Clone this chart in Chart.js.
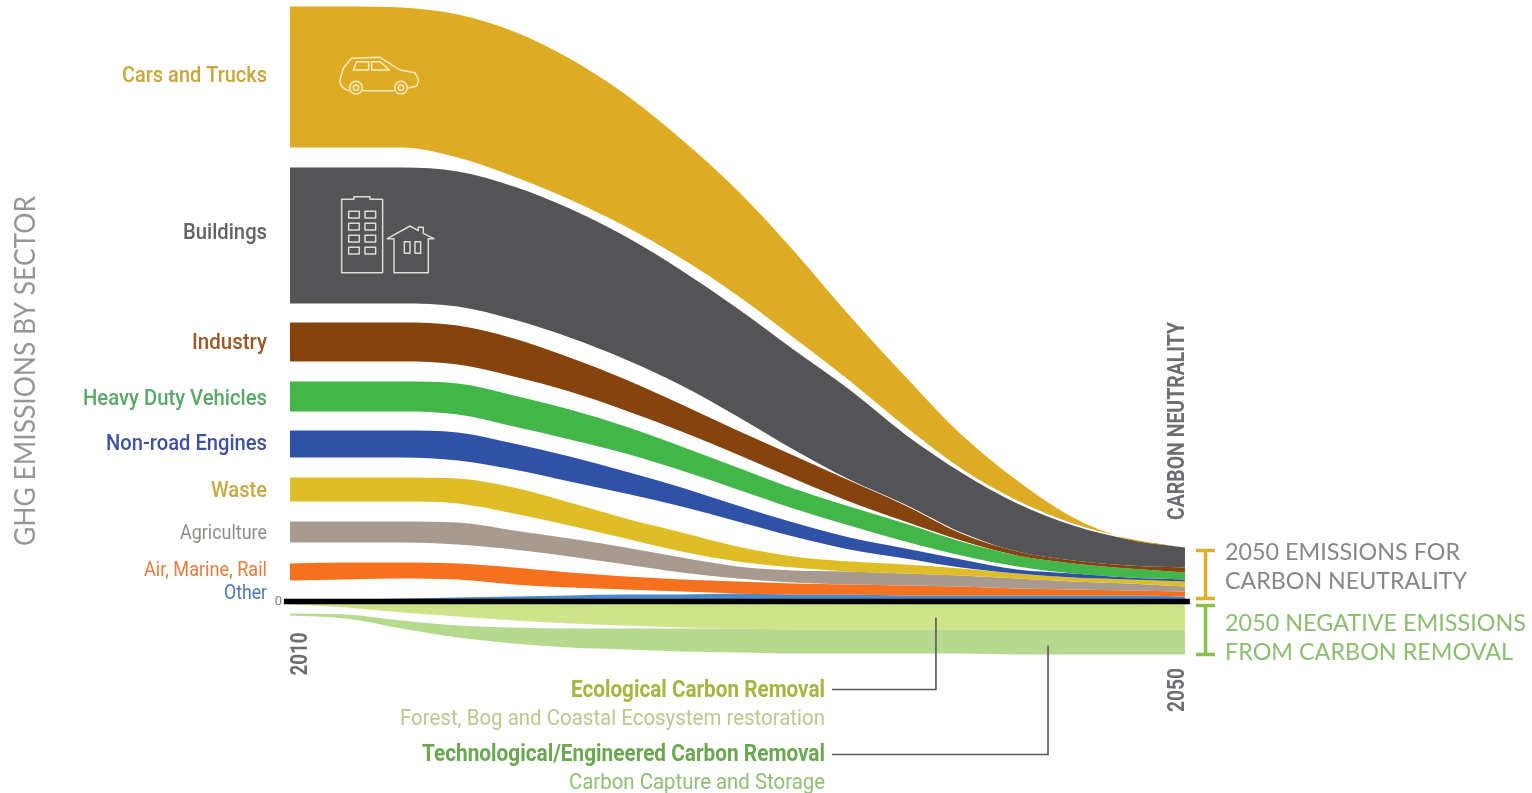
<!DOCTYPE html>
<html>
<head>
<meta charset="utf-8">
<title>GHG emissions by sector</title>
<script src="https://cdn.jsdelivr.net/npm/chart.js@4"></script>
<style>
  html, body { margin: 0; padding: 0; background: #fff; overflow: hidden; }
  canvas { display: block; }
</style>
</head>
<body>
<canvas id="myChart" width="1532" height="793"></canvas>
<script>
// years the band edges were read at
const years = [2010, 2012.5, 2015, 2017.5, 2020, 2022.5, 2025, 2027.5, 2030, 2032.5, 2035, 2037.5, 2040, 2042.5, 2045, 2047.5, 2050];

// upper and lower edge of every sector band (relative emissions)
const carsTop = [595, 595, 594, 587, 570, 543, 507, 462, 411, 351, 286, 225, 167, 121, 84, 62, 54];
const carsBottom = [454, 454, 454, 444, 425, 402, 375, 343, 306, 264, 221, 175, 133, 101, 78, 63, 54];
const buildingsTop = [434, 434, 434, 430, 415, 393, 365, 331, 293, 252, 212, 167, 129, 98, 76, 62, 54];
const buildingsBottom = [298, 298, 298, 295, 282, 264, 242, 216, 185, 152, 122, 97, 69, 50, 41, 36, 34];
const industryTop = [279, 279, 279, 276, 263, 244, 222, 197, 171, 146, 121, 96, 68, 50, 41, 36, 34];
const industryBottom = [240, 240, 240, 237, 225, 210, 191, 170, 147, 123, 100, 80, 61, 46, 38, 33, 29];
const heavyTop = [220, 220, 220, 218, 206, 192, 175, 155, 134, 113, 95, 78, 60, 46, 38, 33, 29];
const heavyBottom = [190, 190, 190, 187, 175, 162, 148, 131, 112, 93, 76, 60, 46, 35, 28, 24, 22];
const nonroadTop = [171, 171, 171, 169, 158, 145, 130, 114, 96, 79, 64, 53, 42, 32, 28, 24, 22];
const nonroadBottom = [144, 144, 144, 141, 132, 120, 108, 95, 80, 65, 52, 43, 34, 28, 24, 22, 20];
const wasteTop = [124, 124, 124, 123, 114, 99, 83, 69, 55, 45, 40, 37, 33, 28, 24, 22, 20];
const wasteBottom = [100, 100, 100, 98, 88, 76, 63, 50, 40, 34, 30, 28, 26, 23, 20, 18, 15];
const agricultureTop = [80, 80, 80, 79, 71, 63, 54, 44, 35, 31, 30, 28, 26, 23, 20, 18, 15];
const agricultureBottom = [59, 59, 59, 57, 52, 45, 37, 29, 23, 19, 17, 16, 15, 13, 12, 11, 10];
const airTop = [38, 39, 39, 38, 34, 29, 25, 22, 20, 18, 17, 16, 15, 13, 12, 11, 10];
const airBottom = [21, 22, 23, 22, 17, 14, 12, 10, 8, 7, 7, 6, 6, 6, 6, 6, 5];
const otherTop = [2, 2, 3, 4, 5, 6, 7, 7, 8, 7, 7, 6, 6, 6, 6, 6, 5];
const otherBottom = [0, 0, 0, 0, 0, 0, 0, 0, 0, 0, 0, 0, 0, 0, 0, 0, 0];
const ecoTop = [0, 0, 0, 0, 0, 0, 0, 0, 0, 0, 0, 0, 0, 0, 0, 0, 0];
const ecoBottom = [-3, -6, -11, -15, -19, -22, -24, -26, -27, -28, -28, -28, -28, -28, -28, -28, -28];
const techTop = [-12, -13, -19, -24, -26, -27, -27, -27, -27, -28, -28, -28, -28, -28, -28, -28, -28];
const techBottom = [-14, -17, -27, -36, -42, -46, -48, -50, -51, -52, -52, -52, -52, -53, -53, -53, -53];

const bands = [
  ["Cars and Trucks", carsTop, carsBottom, "#ddac24"],
  ["Buildings", buildingsTop, buildingsBottom, "#545457"],
  ["Industry", industryTop, industryBottom, "#85430e"],
  ["Heavy Duty Vehicles", heavyTop, heavyBottom, "#42b649"],
  ["Non-road Engines", nonroadTop, nonroadBottom, "#2f52a7"],
  ["Waste", wasteTop, wasteBottom, "#dfbd26"],
  ["Agriculture", agricultureTop, agricultureBottom, "#a99a8f"],
  ["Air, Marine, Rail", airTop, airBottom, "#f5701f"],
  ["Other", otherTop, otherBottom, "#4a8acb"],
  ["Ecological Carbon Removal", ecoTop, ecoBottom, "#cfe38a"],
  ["Technological/Engineered Carbon Removal", techTop, techBottom, "#b5da8e"],
];

function toPoints(values) {
  return values.map((v, i) => ({ x: years[i], y: v }));
}

function pathLine(points, color, width) {
  return {
    data: points.map(([x, y]) => ({ x, y })),
    borderColor: color,
    borderWidth: width,
    pointRadius: 0,
    tension: 0,
    fill: false,
  };
}

// index 0 is painted last, so lines go first
const datasets = [
  pathLine([[2009.73, 0], [2050.22, 0]], "#000000", 5.5),
  pathLine([[2034.22, -88], [2038.87, -88], [2038.87, -16]], "#58595b", 1.6),
  pathLine([[2034.22, -153], [2043.88, -153], [2043.88, -44]], "#58595b", 1.6),
  pathLine([[2050.49, 51], [2051.34, 51], [2050.92, 51], [2050.92, 3], [2050.49, 3], [2051.34, 3]], "#e0ad2a", 3.5),
  pathLine([[2050.49, -4], [2051.34, -4], [2050.92, -4], [2050.92, -53], [2050.49, -53], [2051.34, -53]], "#8dbf4e", 3.5),
];

bands.forEach(([name, top, bottom, color]) => {
  datasets.push({
    label: name + " lower",
    data: toPoints(bottom),
    borderWidth: 0,
    pointRadius: 0,
    cubicInterpolationMode: "monotone",
    fill: false,
  });
  datasets.push({
    label: name,
    data: toPoints(top),
    borderWidth: 0,
    pointRadius: 0,
    cubicInterpolationMode: "monotone",
    backgroundColor: color,
    fill: "-1",
  });
});

function text(ctx, str, right, y, width, font, color) {
  ctx.font = font;
  ctx.fillStyle = color;
  ctx.textAlign = "right";
  ctx.textBaseline = "middle";
  ctx.fillText(str, right, y + 2, width);
}

function leftText(ctx, str, left, y, width, font, color) {
  ctx.font = font;
  ctx.fillStyle = color;
  ctx.textAlign = "left";
  ctx.textBaseline = "middle";
  ctx.fillText(str, left, y + 0.5, width);
}

function upText(ctx, str, x, y, width, font, color) {
  ctx.save();
  ctx.translate(x + 2, y);
  ctx.rotate(-Math.PI / 2);
  ctx.font = font;
  ctx.fillStyle = color;
  ctx.textAlign = "center";
  ctx.textBaseline = "middle";
  ctx.fillText(str, 0, 0, width);
  ctx.restore();
}

function poly(ctx, pts) {
  ctx.beginPath();
  pts.forEach(([x, y], i) => (i ? ctx.lineTo(x, y) : ctx.moveTo(x, y)));
  ctx.closePath();
  ctx.stroke();
}

function drawIcons(ctx, left) {
  ctx.save();
  ctx.translate(left, 0);
  ctx.scale(1 / 3, 1 / 3);
  ctx.lineJoin = "round";
  ctx.lineWidth = 4.4;

  // car
  ctx.strokeStyle = "#f8ecc2";
  ctx.beginPath();
  ctx.moveTo(178, 272);
  ctx.bezierCurveTo(160, 268, 148, 255, 150, 240);
  ctx.lineTo(160, 205);
  ctx.lineTo(185, 175);
  ctx.lineTo(270, 172);
  ctx.lineTo(330, 210);
  ctx.lineTo(375, 218);
  ctx.lineTo(386, 240);
  ctx.lineTo(380, 258);
  ctx.lineTo(355, 264);
  ctx.moveTo(312, 272);
  ctx.lineTo(218, 272);
  ctx.stroke();
  poly(ctx, [[190, 210], [200, 185], [236, 185], [236, 210]]);
  poly(ctx, [[245, 210], [245, 185], [270, 185], [298, 210]]);
  [198, 333].forEach((cx) => {
    ctx.beginPath();
    ctx.arc(cx, 263, 19, 0, Math.PI * 2);
    ctx.stroke();
    ctx.beginPath();
    ctx.arc(cx, 263, 8, 0, Math.PI * 2);
    ctx.stroke();
  });

  // tower and house
  ctx.strokeStyle = "#dcdcdc";
  poly(ctx, [[155, 818], [155, 598], [192, 598], [192, 590], [240, 590], [240, 598], [278, 598], [278, 818]]);
  [634, 670, 706, 742].forEach((wy) => {
    [176, 225].forEach((wx) => ctx.strokeRect(wx, wy, 32, 20));
  });
  poly(ctx, [[292, 716], [360, 678], [385, 692], [385, 682], [400, 682], [400, 700], [432, 716], [415, 716], [415, 818], [312, 818], [312, 716]]);
  ctx.strokeRect(343, 725, 17, 35);
  ctx.strokeRect(375, 725, 17, 35);
  ctx.restore();
}

const annotations = {
  id: "annotations",
  afterDatasetsDraw(chart) {
    const ctx = chart.ctx;
    const left = chart.scales.x.getPixelForValue(2010);
    drawIcons(ctx, left);

    const bold = 'bold 23px Roboto';
    const mid = '500 22px Roboto';
    const reg = '400 22px Roboto';
    const caps = '400 24px Lato';

    text(ctx, "Cars and Trucks", 267, 74, 145, mid, "#c9a637");
    text(ctx, "Buildings", 267, 231, 84, mid, "#616264");
    text(ctx, "Industry", 267, 341, 75, mid, "#9a5a25");
    text(ctx, "Heavy Duty Vehicles", 267, 397, 184, mid, "#5aa868");
    text(ctx, "Non-road Engines", 267, 442, 161, mid, "#41539e");
    text(ctx, "Waste", 267, 489, 56, mid, "#c4ac3f");
    text(ctx, "Agriculture", 267, 532, 87, '400 21px Roboto', "#8f8b87");
    text(ctx, "Air, Marine, Rail", 267, 569, 123, '400 20px Roboto', "#ea7a3d");
    text(ctx, "Other", 267, 592, 43, '400 20px Roboto', "#4a77b3");
    text(ctx, "0", 282, 600, 8, '400 13px Roboto', "#808285");

    upText(ctx, "GHG EMISSIONS BY SECTOR", 24, 371, 350, '400 28px Lato', "#94969a");
    upText(ctx, "2010", 299, 654, 43, bold, "#6d6e71");
    upText(ctx, "2050", 1176, 690, 44, bold, "#6d6e71");
    upText(ctx, "CARBON NEUTRALITY", 1176, 421, 198, bold, "#6d6e71");

    leftText(ctx, "2050 EMISSIONS FOR", 1225, 552, 235, caps, "#85878a");
    leftText(ctx, "CARBON NEUTRALITY", 1225, 581, 242, caps, "#85878a");
    leftText(ctx, "2050 NEGATIVE EMISSIONS", 1225, 623, 301, caps, "#8cbd70");
    leftText(ctx, "FROM CARBON REMOVAL", 1225, 652, 288, caps, "#8cbd70");

    text(ctx, "Ecological Carbon Removal", 825, 689, 254, bold, "#a6b53f");
    text(ctx, "Forest, Bog and Coastal Ecosystem restoration", 825, 717, 425, reg, "#b9c98f");
    text(ctx, "Technological/Engineered Carbon Removal", 825, 753, 403, bold, "#6aa84f");
    text(ctx, "Carbon Capture and Storage", 825, 781, 256, reg, "#8fbf74");
  },
};

const ctx = document.getElementById("myChart").getContext("2d");
const myChart = new Chart(ctx, {
  type: "line",
  data: { datasets },
  options: {
    responsive: false,
    animation: false,
    layout: { padding: 0 },
    plugins: { legend: { display: false }, tooltip: { enabled: false } },
    scales: {
      // the plot fills the canvas: 22.375 px per year, 1 px per unit
      x: { type: "linear", display: false, min: 1997.04, max: 2065.51 },
      y: { display: false, min: -191.5, max: 601.5 },
    },
  },
  plugins: [annotations],
});
</script>
</body>
</html>
